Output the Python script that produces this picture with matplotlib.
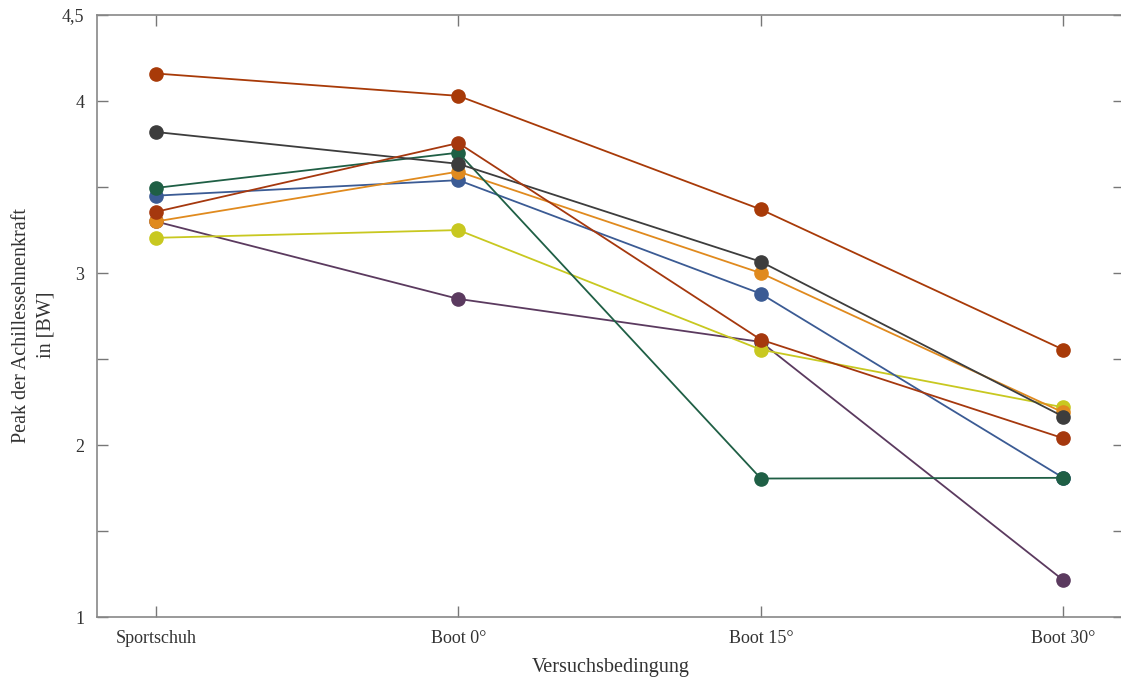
import matplotlib
matplotlib.use("Agg")
import matplotlib.pyplot as plt

categories = ["Sportschuh", "Boot 0°", "Boot 15°", "Boot 30°"]

s_top_brown = [4.16, 4.03, 3.37, 2.555]
s_gray      = [3.82, 3.635, 3.066, 2.166]
s_green     = [3.495, 3.70, 1.806, 1.81]
s_blue      = [3.45, 3.54, 2.88, 1.81]
s_red_brown = [3.356, 3.756, 2.613, 2.04]
s_orange    = [3.30, 3.59, 3.00, 2.19]
s_purple    = [3.30, 2.85, 2.60, 1.215]
s_yellow    = [3.205, 3.25, 2.555, 2.22]

series = [
    (s_purple, "#5b3a5f"),
    (s_yellow, "#c8c820"),
    (s_blue, "#3b5b94"),
    (s_orange, "#e08a1e"),
    (s_green, "#1f5f45"),
    (s_gray, "#3d3d3d"),
    (s_red_brown, "#a5380e"),
    (s_top_brown, "#a83a08"),
]

ytick_vals = [1, 1.5, 2, 2.5, 3, 3.5, 4, 4.5]
ytick_labels = ["1", "", "2", "", "3", "", "4", "4,5"]

plt.rcParams["font.family"] = ["Liberation Serif", "DejaVu Serif"]

fig = plt.figure(figsize=(11.21, 6.82), dpi=100)
ax = fig.add_axes([0.0865, 0.095, 0.916, 0.883])

x = list(range(len(categories)))
for vals, col in series:
    ax.plot(x, vals, color=col, lw=1.3, marker="o", markersize=9.5,
            markerfacecolor=col, markeredgecolor=col)

ax.set_xlim(-0.195, 3.2)
ax.set_ylim(1, 4.5)
ax.set_xticks(x)
ax.set_xticklabels(categories, fontsize=13, color="#333333")
ax.set_yticks(ytick_vals)
ax.set_yticklabels(ytick_labels, fontsize=13, color="#333333")
ax.tick_params(direction="in", length=8, width=1, color="#777777",
               top=True, right=True, pad=9)
for sp in ax.spines.values():
    sp.set_color("#888888")
    sp.set_linewidth(1.2)

ax.set_xlabel("Versuchsbedingung", fontsize=14.5, color="#333333", labelpad=8)
ax.set_ylabel("Peak der Achillessehnenkraft\nin [BW]", fontsize=14.5,
              color="#333333", linespacing=1.45)
ax.yaxis.set_label_coords(-0.040, 0.485)

fig.savefig("out.png", dpi=100)
